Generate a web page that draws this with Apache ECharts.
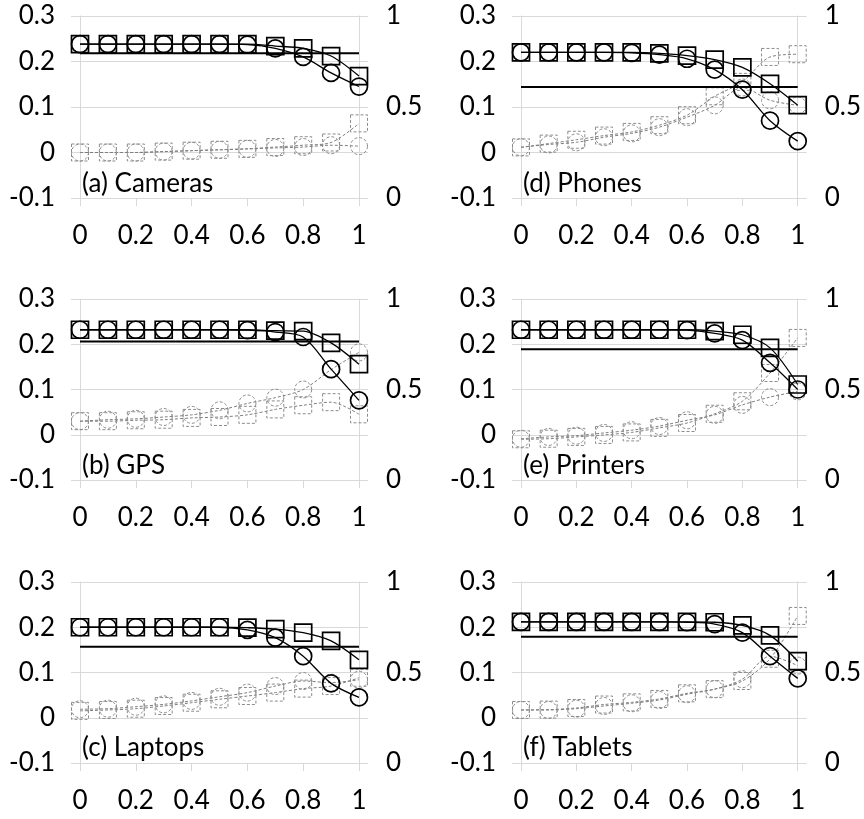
<!DOCTYPE html>
<html><head><meta charset="utf-8">
<script src="https://cdn.jsdelivr.net/npm/echarts@6/dist/echarts.min.js"></script>
<style>html,body{margin:0;padding:0;background:#fff}#c{width:864px;height:819px}</style>
</head><body><div id="c"></div>
<script>
// x positions (categories 0..1 step 0.1)
const xValues = [0, 0.1, 0.2, 0.3, 0.4, 0.5, 0.6, 0.7, 0.8, 0.9, 1];
const panelTitles = ['(a) Cameras', '(b) GPS', '(c) Laptops', '(d) Phones', '(e) Printers', '(f) Tablets'];

// black series (left axis)
const camerasCircle  = [0.238,0.238,0.238,0.238,0.238,0.238,0.237,0.229,0.21,0.175,0.145];
const camerasSquare  = [0.238,0.238,0.238,0.238,0.238,0.238,0.238,0.234,0.229,0.212,0.168];
const gpsCircle      = [0.232,0.232,0.232,0.232,0.232,0.232,0.231,0.227,0.216,0.145,0.076];
const gpsSquare      = [0.232,0.232,0.232,0.232,0.232,0.232,0.232,0.23,0.229,0.203,0.156];
const laptopsCircle  = [0.2,0.2,0.2,0.2,0.2,0.2,0.194,0.177,0.136,0.076,0.045];
const laptopsSquare  = [0.2,0.2,0.2,0.2,0.2,0.2,0.199,0.196,0.188,0.17,0.128];
const phonesCircle   = [0.22,0.22,0.22,0.22,0.219,0.215,0.206,0.182,0.138,0.07,0.025];
const phonesSquare   = [0.22,0.22,0.22,0.22,0.22,0.218,0.213,0.204,0.187,0.151,0.104];
const printersCircle = [0.232,0.232,0.232,0.232,0.232,0.232,0.231,0.224,0.209,0.159,0.1];
const printersSquare = [0.232,0.232,0.232,0.232,0.232,0.232,0.232,0.229,0.221,0.192,0.111];
const tabletsCircle  = [0.212,0.212,0.212,0.212,0.212,0.212,0.211,0.207,0.188,0.136,0.087];
const tabletsSquare  = [0.212,0.212,0.212,0.212,0.212,0.212,0.212,0.211,0.204,0.182,0.125];

// horizontal reference level per panel (left axis), order a..f
const levelValues = [0.218, 0.206, 0.157, 0.144, 0.189, 0.179];

// grey dashed series (right axis 0..1)
const camerasCircleGray  = [0.25,0.25,0.25,0.255,0.26,0.265,0.27,0.275,0.28,0.29,0.285];
const camerasSquareGray  = [0.25,0.25,0.25,0.255,0.26,0.265,0.27,0.28,0.29,0.305,0.41];
const gpsCircleGray      = [0.325,0.333,0.338,0.348,0.36,0.385,0.423,0.455,0.5,0.61,0.705];
const gpsSquareGray      = [0.325,0.325,0.33,0.333,0.343,0.348,0.36,0.39,0.413,0.43,0.363];
const laptopsCircleGray  = [0.297,0.3,0.311,0.324,0.343,0.366,0.389,0.425,0.453,0.444,0.46];
const laptopsSquareGray  = [0.288,0.293,0.3,0.315,0.333,0.352,0.37,0.389,0.411,0.425,0.471];
const phonesCircleGray   = [0.279,0.294,0.306,0.334,0.355,0.389,0.444,0.509,0.607,0.537,0.509];
const phonesSquareGray   = [0.278,0.299,0.32,0.343,0.363,0.4,0.455,0.559,0.638,0.775,0.79];
const printersCircleGray = [0.228,0.238,0.245,0.26,0.275,0.298,0.33,0.36,0.415,0.458,0.49];
const printersSquareGray = [0.225,0.228,0.238,0.249,0.263,0.288,0.315,0.366,0.435,0.591,0.785];
const tabletsCircleGray  = [0.293,0.293,0.3,0.315,0.33,0.348,0.38,0.408,0.463,0.59,0.538];
const tabletsSquareGray  = [0.293,0.295,0.304,0.323,0.335,0.354,0.385,0.408,0.453,0.576,0.8125];

const panels = [
  {circle: camerasCircle,  square: camerasSquare,  cg: camerasCircleGray,  sg: camerasSquareGray},
  {circle: gpsCircle,      square: gpsSquare,      cg: gpsCircleGray,      sg: gpsSquareGray},
  {circle: laptopsCircle,  square: laptopsSquare,  cg: laptopsCircleGray,  sg: laptopsSquareGray},
  {circle: phonesCircle,   square: phonesSquare,   cg: phonesCircleGray,   sg: phonesSquareGray},
  {circle: printersCircle, square: printersSquare, cg: printersCircleGray, sg: printersSquareGray},
  {circle: tabletsCircle,  square: tabletsSquare,  cg: tabletsCircleGray,  sg: tabletsSquareGray}
];

const FONT = 'Lato';
const FS = 26;
const GRIDC = '#d9d9d9';
const colLeft = [80, 521];
const rowTop = [16, 299, 582];
const rowH = [182, 181, 181];
const titleY = [171, 453, 735];

const pairs = arr => xValues.map((x, k) => [x, arr[k]]);
const fmt = v => String(+(+v).toFixed(1));

const grid = [], xAxis = [], yAxis = [], series = [], title = [];
panels.forEach((p, i) => {
  const col = i < 3 ? 0 : 1, row = i % 3;
  grid.push({left: colLeft[col], top: rowTop[row], width: 279, height: rowH[row], containLabel: false});
  title.push({text: panelTitles[i], left: colLeft[col] + 2, top: titleY[row], padding: 0,
    textStyle: {fontFamily: FONT, fontSize: FS, fontWeight: 'normal', color: '#000'}});
  xAxis.push({gridIndex: i, type: 'value', min: 0, max: 1, interval: 0.2,
    axisLine: {show: true, onZero: false, lineStyle: {color: GRIDC}},
    axisTick: {show: true, length: 8, lineStyle: {color: GRIDC}},
    splitLine: {show: false},
    axisLabel: {fontFamily: FONT, fontSize: FS, color: '#000', margin: 25, formatter: fmt}});
  yAxis.push({gridIndex: i, type: 'value', min: -0.1, max: 0.3, interval: 0.1, position: 'left',
    axisLine: {show: true, onZero: false, lineStyle: {color: GRIDC}},
    axisTick: {show: true, length: 9, lineStyle: {color: GRIDC}},
    splitLine: {show: true, lineStyle: {color: GRIDC}},
    axisLabel: {fontFamily: FONT, fontSize: FS, color: '#000', margin: 25, formatter: fmt}});
  yAxis.push({gridIndex: i, type: 'value', min: 0, max: 1, interval: 0.5, position: 'right',
    axisLine: {show: true, onZero: false, lineStyle: {color: GRIDC}},
    axisTick: {show: false}, splitLine: {show: false},
    axisLabel: {fontFamily: FONT, fontSize: FS, color: '#000', margin: 27, formatter: fmt}});
  yAxis.push({gridIndex: i, type: 'value', min: -0.1, max: 0.3, interval: 0.1, position: 'right',
    axisLine: {show: false, onZero: false},
    axisTick: {show: true, length: 9, lineStyle: {color: GRIDC}},
    splitLine: {show: false}, axisLabel: {show: false}});
  const gray = (data, sym) => ({type: 'line', xAxisIndex: i, yAxisIndex: 3 * i + 1, data: pairs(data),
    symbol: sym, symbolSize: 17, smooth: 0.3, z: 2,
    lineStyle: {color: '#7f7f7f', width: 1, type: [3, 2]},
    itemStyle: {color: 'rgba(255,255,255,0)', borderColor: '#8c8c8c', borderWidth: 1, borderType: [3, 2]}});
  const black = (data, sym) => ({type: 'line', xAxisIndex: i, yAxisIndex: 3 * i, data: pairs(data),
    symbol: sym, symbolSize: 17, smooth: 0.3, z: 4,
    lineStyle: {color: '#000', width: 1.3},
    itemStyle: {color: 'rgba(255,255,255,0)', borderColor: '#000', borderWidth: 1.7}});
  series.push(gray(p.cg, 'circle'), gray(p.sg, 'rect'));
  series.push({type: 'line', xAxisIndex: i, yAxisIndex: 3 * i, data: [[0, levelValues[i]], [1, levelValues[i]]],
    symbol: 'none', z: 3, lineStyle: {color: '#000', width: 2}});
  series.push(black(p.square, 'rect'), black(p.circle, 'circle'));
});

const chart = echarts.init(document.getElementById('c'), null, {renderer: 'canvas'});
chart.setOption({animation: false, backgroundColor: '#fff', title, grid, xAxis, yAxis, series});
</script></body></html>
